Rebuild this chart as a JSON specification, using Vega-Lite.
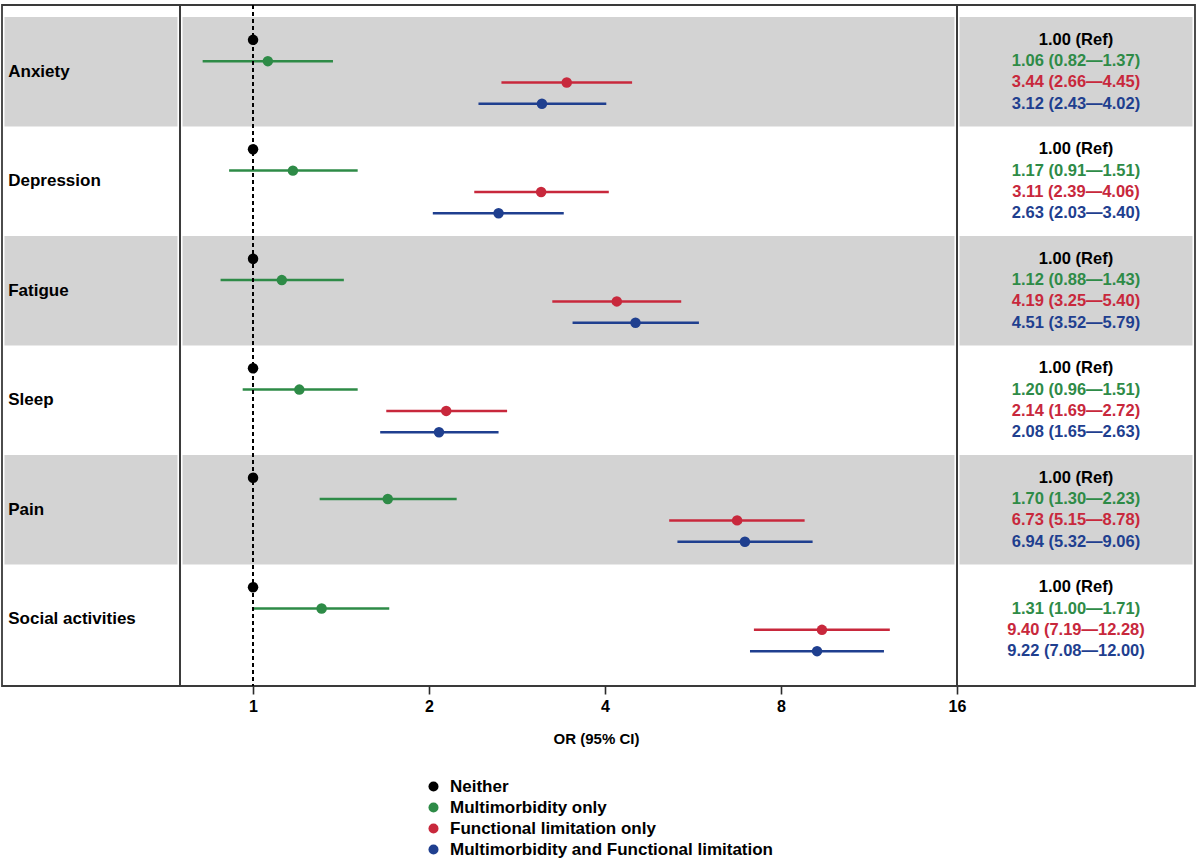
{
  "$schema": "https://vega.github.io/schema/vega-lite/v6.json",
  "padding": {"left": 1, "top": 3, "right": 4, "bottom": 2},
  "background": "white",
  "spacing": 0,
  "bounds": "flush",
  "config": {
    "view": {"stroke": "#3a3a3a", "strokeWidth": 1.8},
    "font": "Liberation Sans",
    "concat": {"spacing": 0},
    "legend": {"labelLimit": 0}
  },
  "datasets": {
    "rows": [
      {"cat": "Anxiety", "group": "Neither", "or": 1.00, "lo": null, "hi": null, "label": "1.00 (Ref)"},
      {"cat": "Anxiety", "group": "Multimorbidity only", "or": 1.06, "lo": 0.82, "hi": 1.37, "label": "1.06 (0.82—1.37)"},
      {"cat": "Anxiety", "group": "Functional limitation only", "or": 3.44, "lo": 2.66, "hi": 4.45, "label": "3.44 (2.66—4.45)"},
      {"cat": "Anxiety", "group": "Multimorbidity and Functional limitation", "or": 3.12, "lo": 2.43, "hi": 4.02, "label": "3.12 (2.43—4.02)"},
      {"cat": "Depression", "group": "Neither", "or": 1.00, "lo": null, "hi": null, "label": "1.00 (Ref)"},
      {"cat": "Depression", "group": "Multimorbidity only", "or": 1.17, "lo": 0.91, "hi": 1.51, "label": "1.17 (0.91—1.51)"},
      {"cat": "Depression", "group": "Functional limitation only", "or": 3.11, "lo": 2.39, "hi": 4.06, "label": "3.11 (2.39—4.06)"},
      {"cat": "Depression", "group": "Multimorbidity and Functional limitation", "or": 2.63, "lo": 2.03, "hi": 3.40, "label": "2.63 (2.03—3.40)"},
      {"cat": "Fatigue", "group": "Neither", "or": 1.00, "lo": null, "hi": null, "label": "1.00 (Ref)"},
      {"cat": "Fatigue", "group": "Multimorbidity only", "or": 1.12, "lo": 0.88, "hi": 1.43, "label": "1.12 (0.88—1.43)"},
      {"cat": "Fatigue", "group": "Functional limitation only", "or": 4.19, "lo": 3.25, "hi": 5.40, "label": "4.19 (3.25—5.40)"},
      {"cat": "Fatigue", "group": "Multimorbidity and Functional limitation", "or": 4.51, "lo": 3.52, "hi": 5.79, "label": "4.51 (3.52—5.79)"},
      {"cat": "Sleep", "group": "Neither", "or": 1.00, "lo": null, "hi": null, "label": "1.00 (Ref)"},
      {"cat": "Sleep", "group": "Multimorbidity only", "or": 1.20, "lo": 0.96, "hi": 1.51, "label": "1.20 (0.96—1.51)"},
      {"cat": "Sleep", "group": "Functional limitation only", "or": 2.14, "lo": 1.69, "hi": 2.72, "label": "2.14 (1.69—2.72)"},
      {"cat": "Sleep", "group": "Multimorbidity and Functional limitation", "or": 2.08, "lo": 1.65, "hi": 2.63, "label": "2.08 (1.65—2.63)"},
      {"cat": "Pain", "group": "Neither", "or": 1.00, "lo": null, "hi": null, "label": "1.00 (Ref)"},
      {"cat": "Pain", "group": "Multimorbidity only", "or": 1.70, "lo": 1.30, "hi": 2.23, "label": "1.70 (1.30—2.23)"},
      {"cat": "Pain", "group": "Functional limitation only", "or": 6.73, "lo": 5.15, "hi": 8.78, "label": "6.73 (5.15—8.78)"},
      {"cat": "Pain", "group": "Multimorbidity and Functional limitation", "or": 6.94, "lo": 5.32, "hi": 9.06, "label": "6.94 (5.32—9.06)"},
      {"cat": "Social activities", "group": "Neither", "or": 1.00, "lo": null, "hi": null, "label": "1.00 (Ref)"},
      {"cat": "Social activities", "group": "Multimorbidity only", "or": 1.31, "lo": 1.00, "hi": 1.71, "label": "1.31 (1.00—1.71)"},
      {"cat": "Social activities", "group": "Functional limitation only", "or": 9.40, "lo": 7.19, "hi": 12.28, "label": "9.40 (7.19—12.28)"},
      {"cat": "Social activities", "group": "Multimorbidity and Functional limitation", "or": 9.22, "lo": 7.08, "hi": 12.00, "label": "9.22 (7.08—12.00)"}
    ]
  },
  "data": {"name": "rows"},
  "resolve": {"scale": {"color": "shared"}, "legend": {"color": "shared"}},
  "hconcat": [
    {
      "width": 178,
      "height": 681,
      "layer": [
        {
          "transform": [{"filter": "datum.group === 'Neither' && indexof(['Anxiety','Fatigue','Pain'], datum.cat) >= 0"}],
          "mark": {"type": "rect", "color": "#d3d3d3"},
          "encoding": {
            "x": {"datum": 0.014, "type": "quantitative", "scale": {"domain": [0, 1]}, "axis": null},
            "x2": {"datum": 0.986},
            "y": {"field": "cat", "type": "nominal", "axis": null,
                  "scale": {"type": "band", "domain": ["Anxiety", "Depression", "Fatigue", "Sleep", "Pain", "Social activities"], "paddingInner": 0, "paddingOuter": 0.11}}
          }
        },
        {
          "transform": [{"filter": "datum.group === 'Neither'"}],
          "mark": {"type": "text", "align": "left", "baseline": "middle", "fontSize": 17, "fontWeight": "bold", "color": "#000000"},
          "encoding": {
            "y": {"field": "cat", "type": "nominal", "axis": null,
                  "scale": {"type": "band", "domain": ["Anxiety", "Depression", "Fatigue", "Sleep", "Pain", "Social activities"], "paddingInner": 0, "paddingOuter": 0.11}},
            "x": {"datum": 0.035, "type": "quantitative"},
            "text": {"field": "cat"}
          }
        }
      ]
    },
    {
      "width": 777,
      "height": 681,
      "layer": [
        {
          "transform": [{"filter": "datum.group === 'Neither' && indexof(['Anxiety','Fatigue','Pain'], datum.cat) >= 0"}],
          "mark": {"type": "rect", "color": "#d3d3d3"},
          "encoding": {
            "x": {"datum": 0.7575, "type": "quantitative",
                  "scale": {"type": "log", "base": 2, "domain": [0.75, 16], "nice": false},
                  "axis": {"values": [1, 2, 4, 8, 16], "format": "~g", "title": "OR (95% CI)",
                           "grid": false, "domain": false, "ticks": true, "tickSize": 8, "tickColor": "#2a2a2a", "tickWidth": 1.6,
                           "labelFlush": false, "labelFontSize": 16, "labelFontWeight": "bold", "labelColor": "#000000", "labelPadding": 4,
                           "titleFontSize": 15, "titleFontWeight": "bold", "titleColor": "#000000", "titlePadding": 17, "titleX": 416, "titleAlign": "center"}},
            "x2": {"datum": 15.84},
            "y": {"field": "cat", "type": "nominal", "axis": null,
                  "scale": {"type": "band", "domain": ["Anxiety", "Depression", "Fatigue", "Sleep", "Pain", "Social activities"], "paddingInner": 0, "paddingOuter": 0.11}}
          }
        },
        {
          "transform": [{"filter": "datum.lo != null"}],
          "mark": {"type": "rule", "strokeWidth": 2.5},
          "encoding": {
            "x": {"field": "lo", "type": "quantitative"},
            "x2": {"field": "hi"},
            "y": {"field": "cat", "type": "nominal", "axis": null,
                  "scale": {"type": "band", "domain": ["Anxiety", "Depression", "Fatigue", "Sleep", "Pain", "Social activities"], "paddingInner": 0, "paddingOuter": 0.11}},
            "yOffset": {"field": "group", "type": "nominal",
                        "scale": {"type": "band", "domain": ["Neither", "Multimorbidity only", "Functional limitation only", "Multimorbidity and Functional limitation"], "paddingInner": 0, "paddingOuter": 0.57}},
            "color": {"field": "group", "type": "nominal",
                      "scale": {"domain": ["Neither", "Multimorbidity only", "Functional limitation only", "Multimorbidity and Functional limitation"], "range": ["#000000", "#2e8b47", "#c8283c", "#1f3f8f"]},
                      "legend": {"orient": "none", "legendX": 423, "legendY": 773, "direction": "vertical", "title": null, "symbolType": "circle", "symbolSize": 100, "symbolStrokeWidth": 0, "labelFontSize": 17, "labelFontWeight": "bold", "labelColor": "#000000", "labelOffset": 8, "rowPadding": 3, "padding": 0, "labelLimit": 0}}
          }
        },
        {
          "mark": {"type": "rule", "strokeDash": [4, 3], "color": "#000000", "strokeWidth": 1.5},
          "encoding": {"x": {"datum": 1, "type": "quantitative"}}
        },
        {
          "mark": {"type": "circle", "size": 110, "opacity": 1},
          "encoding": {
            "x": {"field": "or", "type": "quantitative"},
            "y": {"field": "cat", "type": "nominal", "axis": null,
                  "scale": {"type": "band", "domain": ["Anxiety", "Depression", "Fatigue", "Sleep", "Pain", "Social activities"], "paddingInner": 0, "paddingOuter": 0.11}},
            "yOffset": {"field": "group", "type": "nominal",
                        "scale": {"type": "band", "domain": ["Neither", "Multimorbidity only", "Functional limitation only", "Multimorbidity and Functional limitation"], "paddingInner": 0, "paddingOuter": 0.57}},
            "color": {"field": "group", "type": "nominal",
                      "legend": {"orient": "none", "legendX": 423, "legendY": 773, "direction": "vertical", "title": null, "symbolType": "circle", "symbolSize": 100, "symbolStrokeWidth": 0, "labelFontSize": 17, "labelFontWeight": "bold", "labelColor": "#000000", "labelOffset": 8, "rowPadding": 3, "padding": 0, "labelLimit": 0}}
          }
        }
      ]
    },
    {
      "width": 238,
      "height": 681,
      "layer": [
        {
          "transform": [{"filter": "datum.group === 'Neither' && indexof(['Anxiety','Fatigue','Pain'], datum.cat) >= 0"}],
          "mark": {"type": "rect", "color": "#d3d3d3"},
          "encoding": {
            "x": {"datum": 0.0105, "type": "quantitative", "scale": {"domain": [0, 1]}, "axis": null},
            "x2": {"datum": 0.9895},
            "y": {"field": "cat", "type": "nominal", "axis": null,
                  "scale": {"type": "band", "domain": ["Anxiety", "Depression", "Fatigue", "Sleep", "Pain", "Social activities"], "paddingInner": 0, "paddingOuter": 0.11}}
          }
        },
        {
          "mark": {"type": "text", "align": "center", "baseline": "middle", "fontSize": 16.5, "fontWeight": "bold"},
          "encoding": {
            "x": {"datum": 0.5, "type": "quantitative"},
            "y": {"field": "cat", "type": "nominal", "axis": null,
                  "scale": {"type": "band", "domain": ["Anxiety", "Depression", "Fatigue", "Sleep", "Pain", "Social activities"], "paddingInner": 0, "paddingOuter": 0.11}},
            "yOffset": {"field": "group", "type": "nominal",
                        "scale": {"type": "band", "domain": ["Neither", "Multimorbidity only", "Functional limitation only", "Multimorbidity and Functional limitation"], "paddingInner": 0, "paddingOuter": 0.57}},
            "text": {"field": "label"},
            "color": {"field": "group", "type": "nominal",
                      "legend": {"orient": "none", "legendX": 423, "legendY": 773, "direction": "vertical", "title": null, "symbolType": "circle", "symbolSize": 100, "symbolStrokeWidth": 0, "labelFontSize": 17, "labelFontWeight": "bold", "labelColor": "#000000", "labelOffset": 8, "rowPadding": 3, "padding": 0, "labelLimit": 0}}
          }
        }
      ]
    }
  ]
}
